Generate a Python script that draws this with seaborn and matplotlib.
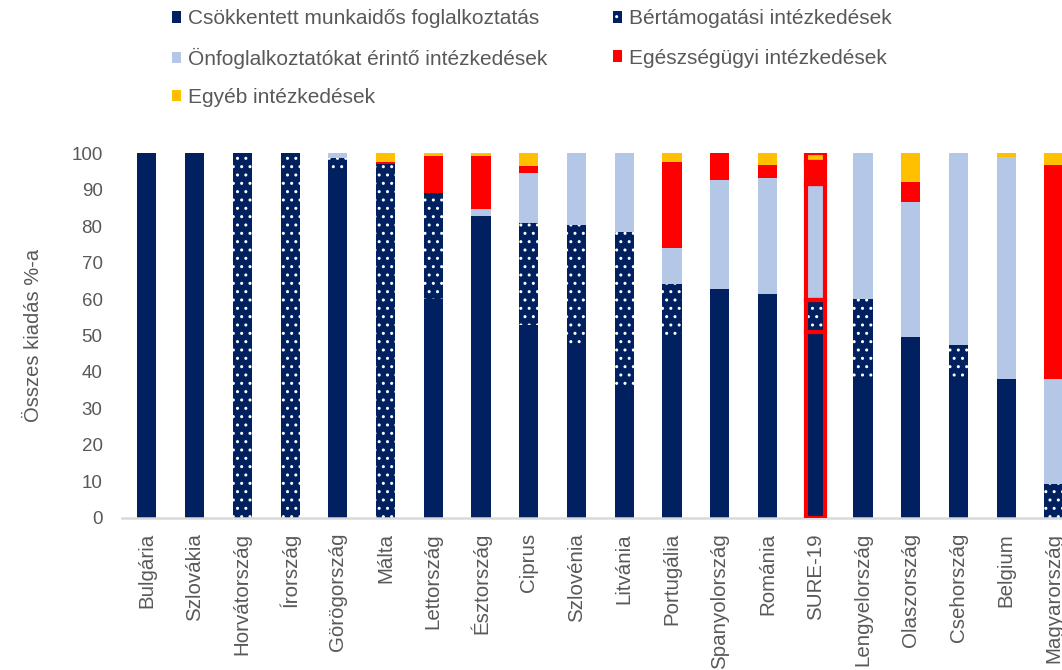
import numpy as np
import pandas as pd
import matplotlib
matplotlib.use("Agg")
import matplotlib.pyplot as plt
import seaborn as sns
from matplotlib.patches import Patch, Rectangle

countries = ["Bulgária", "Szlovákia", "Horvátország", "Írország", "Görögország", "Málta",
             "Lettország", "Észtország", "Ciprus", "Szlovénia", "Litvánia", "Portugália",
             "Spanyolország", "Románia", "SURE-19", "Lengyelország", "Olaszország",
             "Csehország", "Belgium", "Magyarország"]
csokkentett = [100, 100, 0, 0, 95.0, 0, 60.0, 82.8, 52.8, 47.0, 36.0, 49.0, 62.5, 61.0, 51.0, 37.5, 49.5, 38.0, 38.0, 0]
bertamogatasi = [0, 0, 100, 100, 3.6, 97.1, 29.0, 0, 28.0, 33.3, 42.5, 15.0, 0.3, 0.3, 8.7, 22.5, 0, 9.5, 0, 9.3]
onfoglalkoztatok = [0, 0, 0, 0, 1.4, 0, 0, 1.8, 13.9, 19.7, 21.5, 10.0, 30.0, 32.0, 32.0, 40.0, 37.0, 52.5, 61.0, 28.7]
egeszsegugyi = [0, 0, 0, 0, 0, 0.5, 10.3, 14.7, 1.8, 0, 0, 23.5, 7.2, 3.5, 6.0, 0, 5.7, 0, 0, 58.8]
egyeb = [0, 0, 0, 0, 0, 2.4, 0.7, 0.7, 3.5, 0, 0, 2.5, 0, 3.2, 2.3, 0, 7.8, 0, 1.0, 3.2]

series_names = ["Csökkentett munkaidős foglalkoztatás", "Bértámogatási intézkedések",
                "Önfoglalkoztatókat érintő intézkedések", "Egészségügyi intézkedések",
                "Egyéb intézkedések"]
series_values = [csokkentett, bertamogatasi, onfoglalkoztatok, egeszsegugyi, egyeb]
series_colors = ["#002060", "#002060", "#B4C7E7", "#FF0000", "#FFC000"]
series_hatch = [None, "..", None, None, None]
highlight = "SURE-19"

sns.set_theme(style="white")
plt.rcParams["font.family"] = ["Liberation Sans", "DejaVu Sans"]
plt.rcParams["hatch.linewidth"] = 1.0

fig = plt.figure(figsize=(10.62, 6.70), dpi=100)
ax = fig.add_axes([122 / 1062, 1 - 517.7 / 670, 956.8 / 1062, (517.7 - 153.3) / 670])

gray = "#595959"
bottom = np.zeros(len(countries))
hi_idx = countries.index(highlight)
for name, vals, col, hat in zip(series_names, series_values, series_colors, series_hatch):
    df = pd.DataFrame({"orszag": countries, "ertek": vals})
    n_before = len(ax.patches)
    sns.barplot(data=df, x="orszag", y="ertek", order=countries, color=col,
                saturation=1, width=0.4, linewidth=0, ax=ax)
    new = ax.patches[n_before:]
    for p, b in zip(new, bottom):
        p.set_y(b)
        if hat:
            p.set_hatch(hat)
            p.set_edgecolor("white")
            p.set_linewidth(0)
    hp = new[hi_idx]
    if hp.get_height() > 0:
        ax.add_patch(Rectangle(hp.get_xy(), hp.get_width(), hp.get_height(), fill=False,
                               edgecolor="#FF0000", linewidth=3.0, zorder=5))
    bottom = bottom + np.array(vals)

ax.set_xlim(-0.52, 19.52)
ax.set_ylim(0, 100)
ax.set_yticks(np.arange(0, 101, 10))
ax.set_xlabel("")
ax.set_ylabel("Összes kiadás %-a", color=gray, fontsize=14.5, labelpad=20)
for s in ["top", "right", "left"]:
    ax.spines[s].set_visible(False)
ax.spines["bottom"].set_color("#D9D9D9")
ax.spines["bottom"].set_linewidth(1.8)
ax.tick_params(axis="y", length=0, pad=14, labelsize=13.5, labelcolor=gray)
ax.tick_params(axis="x", length=0, pad=11, labelsize=14.8, labelcolor=gray)
for lab in ax.get_xticklabels():
    lab.set_rotation(90)
    lab.set_va("top")
    lab.set_ha("center")

handles = []
for name, col, hat in zip(series_names, series_colors, series_hatch):
    if hat:
        handles.append(Patch(facecolor=col, hatch=hat, edgecolor="white", linewidth=0, label=name))
    else:
        handles.append(Patch(facecolor=col, edgecolor="none", label=name))

# legend entries: (column x px, row y px)
leg_pos = [(172, 19), (613, 19), (172, 58), (613, 58), (172, 97.5)]
for h, name, (lx, ly) in zip(handles, series_names, leg_pos):
    leg = fig.legend([h], [name], loc="center left",
                     bbox_to_anchor=(lx / 1062, 1 - ly / 670), borderaxespad=0, borderpad=0,
                     frameon=False, fontsize=15, handlelength=0.45, handleheight=0.45,
                     handletextpad=0.3)
    for t in leg.get_texts():
        t.set_color(gray)

fig.savefig("out.png", dpi=100)
